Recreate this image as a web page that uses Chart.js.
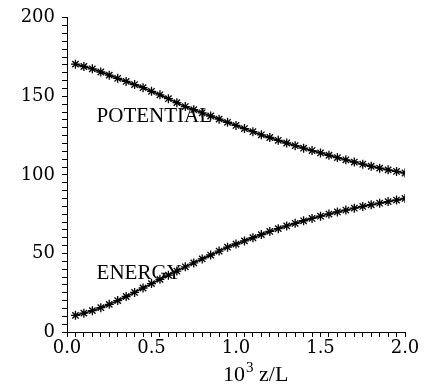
<!DOCTYPE html>
<html lang="en">
<head>
    <meta charset="UTF-8">
    <title>Potential and energy vs z/L</title>
    <script src="https://cdn.jsdelivr.net/npm/chart.js"></script>
    <style>
        html, body {
            margin: 0;
            padding: 0;
            background: white;
        }
        #wrap {
            width: 443px;
            height: 387px;
        }
    </style>
</head>
<body>
    <div id="wrap"><canvas id="grafico"></canvas></div>

    <script>
        // 10^3 z/L positions of the samples
        const zValues = [0.05, 0.10, 0.15, 0.20, 0.25, 0.30, 0.35, 0.40, 0.45, 0.50,
                         0.55, 0.60, 0.65, 0.70, 0.75, 0.80, 0.85, 0.90, 0.95, 1.00,
                         1.05, 1.10, 1.15, 1.20, 1.25, 1.30, 1.35, 1.40, 1.45, 1.50,
                         1.55, 1.60, 1.65, 1.70, 1.75, 1.80, 1.85, 1.90, 1.95, 2.00];
        const potential = [170.5, 169, 167.5, 165.5, 163.5, 161.5, 159.5, 157.5, 155.5, 153.2,
                           151, 148.5, 146, 143.5, 141.5, 139.5, 137.5, 135.5, 133.5, 131.5,
                           129.5, 127.5, 125.5, 123.8, 122, 120.3, 118.6, 117, 115.5, 114,
                           112.5, 111, 109.6, 108.2, 106.8, 105.5, 104.3, 103.2, 102.2, 101.2];
        const energy = [10.6, 12, 13.6, 15.5, 17.6, 20, 22.6, 25.2, 28, 30.8,
                        33.5, 36.2, 38.8, 41.5, 44, 46.5, 49, 51.5, 54, 56,
                        58, 60, 62, 64, 65.8, 67.5, 69.2, 70.8, 72.3, 73.7,
                        75.1, 76.4, 77.6, 78.8, 79.9, 81, 82, 83, 84, 85];
        const seriesNames = ["POTENTIAL", "ENERGY"];
        const xTicks = [0, 0.5, 1.0, 1.5, 2.0];
        const yTicks = [0, 50, 100, 150, 200];

        const pontos = arr => arr.map((v, i) => ({ x: zValues[i], y: v }));

        // curve labels inside the plot + axis title with a real superscript
        const rotulos = {
            id: "rotulos",
            afterDatasetsDraw(chart) {
                const ctx = chart.ctx;
                const xs = chart.scales.x, ys = chart.scales.y;
                ctx.save();
                ctx.fillStyle = "black";
                ctx.font = "21px 'Liberation Serif'";
                ctx.textBaseline = "middle";
                ctx.fillText(seriesNames[0], xs.getPixelForValue(0.175), ys.getPixelForValue(137.5));
                ctx.fillText(seriesNames[1], xs.getPixelForValue(0.175), ys.getPixelForValue(37.5));

                // "10^3 z/L"
                ctx.textBaseline = "alphabetic";
                let x = 223;
                const base = 381;
                ctx.font = "22px 'Liberation Serif'";
                ctx.fillText("10", x, base);
                x += ctx.measureText("10").width + 1;
                ctx.font = "15px 'Liberation Serif'";
                ctx.fillText("3", x, base - 9);
                x += ctx.measureText("3").width;
                ctx.font = "22px 'Liberation Serif'";
                ctx.fillText(" z/L", x, base);
                ctx.restore();
            }
        };

        const estilo = {
            borderColor: "black",
            backgroundColor: "black",
            borderWidth: 1.5,
            pointStyle: "star",
            pointRadius: 4.5,
            pointBorderWidth: 1.3,
            pointBorderColor: "black",
            tension: 0.3,
            showLine: true
        };

        new Chart(document.getElementById("grafico").getContext("2d"), {
            type: "scatter",
            data: {
                datasets: [
                    Object.assign({ label: seriesNames[0], data: pontos(potential) }, estilo),
                    Object.assign({ label: seriesNames[1], data: pontos(energy) }, estilo)
                ]
            },
            options: {
                responsive: true,
                maintainAspectRatio: false,
                animation: false,
                layout: { autoPadding: false, padding: { top: 12, right: 38, left: 0, bottom: 0 } },
                plugins: {
                    legend: { display: false },
                    tooltip: { enabled: false }
                },
                scales: {
                    x: {
                        type: "linear",
                        min: 0,
                        max: 2.0,
                        afterFit: s => { s.height = 55; },
                        afterBuildTicks: s => {
                            const t = [];
                            for (let i = 0; i <= 40; i++) t.push({ value: i * 0.05 });
                            s.ticks = t;
                        },
                        border: { color: "black", width: 1 },
                        grid: { drawOnChartArea: false, color: "black", tickLength: 5 },
                        ticks: {
                            color: "black",
                            padding: 1,
                            autoSkip: false,
                            maxRotation: 0,
                            font: { family: "'DejaVu Serif'", size: 18 },
                            callback: v => {
                                const k = xTicks.find(t => Math.abs(t - v) < 1e-6);
                                return k === undefined ? "" : k.toFixed(1);
                            }
                        }
                    },
                    y: {
                        min: 0,
                        max: 200,
                        afterFit: s => { s.width = 67; },
                        afterBuildTicks: s => {
                            const t = [];
                            for (let v = 0; v <= 200; v += 5) t.push({ value: v });
                            s.ticks = t;
                        },
                        border: { color: "black", width: 1 },
                        grid: { drawOnChartArea: false, color: "black", tickLength: 5 },
                        ticks: {
                            color: "black",
                            padding: 7,
                            autoSkip: false,
                            font: { family: "'DejaVu Serif'", size: 18 },
                            callback: v => yTicks.includes(v) ? String(v) : ""
                        }
                    }
                }
            },
            plugins: [rotulos]
        });
    </script>
</body>
</html>
